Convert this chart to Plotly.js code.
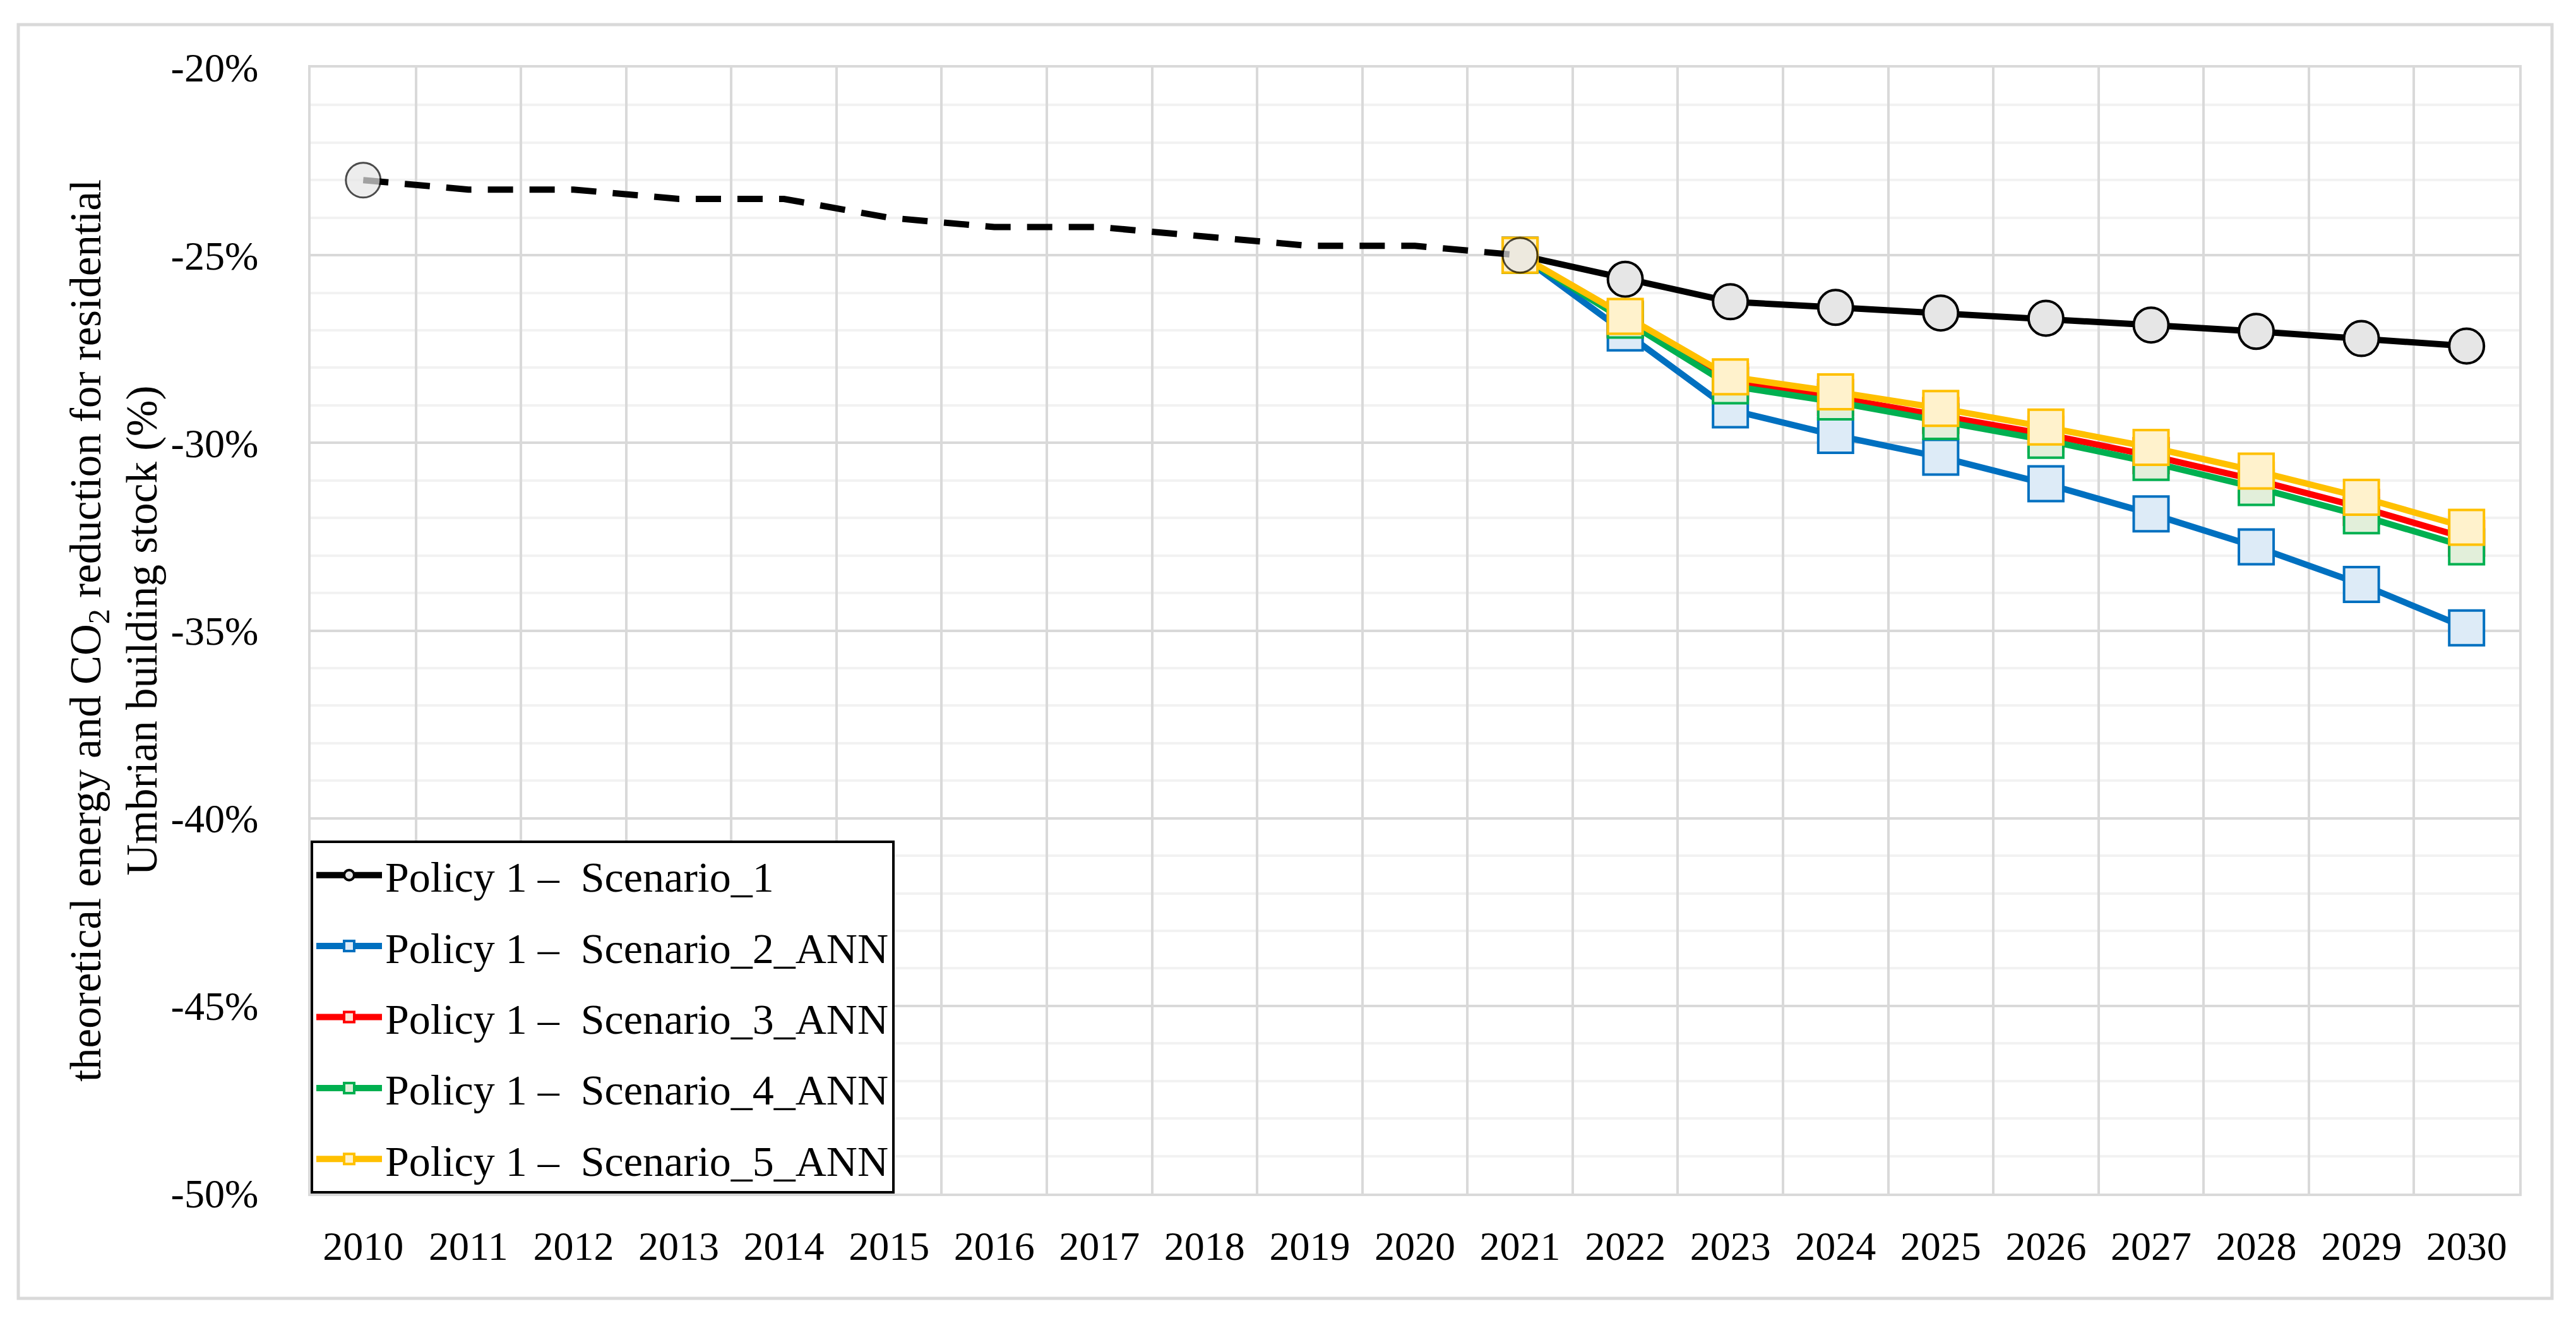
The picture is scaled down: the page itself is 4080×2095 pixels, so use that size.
<!DOCTYPE html>
<html>
<head>
<meta charset="utf-8">
<script src="https://cdn.plot.ly/plotly-3.0.1.min.js"></script>
<style>html,body{margin:0;padding:0;background:#fff;}</style>
</head>
<body>
<div id="chart" style="width:4080px;height:2095px;"></div>
<script>
// ---- data ----
const years = ['2010','2011','2012','2013','2014','2015','2016','2017','2018','2019','2020',
               '2021','2022','2023','2024','2025','2026','2027','2028','2029','2030'];
const historyYears = ['2010','2011','2012','2013','2014','2015','2016','2017','2018','2019','2020','2021'];
const historyValues = [-23.0, -23.25, -23.25, -23.5, -23.5, -24.0, -24.25, -24.25, -24.5, -24.75, -24.75, -25.0];
const scenarioYears = ['2021','2022','2023','2024','2025','2026','2027','2028','2029','2030'];
const scenario1 = [-25.0, -25.64, -26.24, -26.39, -26.54, -26.68, -26.86, -27.03, -27.22, -27.42];
const scenario2 = [-25.0, -27.07, -29.12, -29.80, -30.38, -31.09, -31.89, -32.77, -33.77, -34.93];
const scenario3 = [-25.0, -26.70, -28.37, -28.79, -29.27, -29.77, -30.34, -30.99, -31.72, -32.54];
const scenario4 = [-25.0, -26.73, -28.48, -28.91, -29.43, -29.93, -30.52, -31.19, -31.94, -32.77];
const scenario5 = [-25.0, -26.63, -28.24, -28.64, -29.08, -29.58, -30.12, -30.75, -31.45, -32.25];
const seriesNames = [
  'Policy 1 \u2013\u00a0 Scenario_1',
  'Policy 1 \u2013\u00a0 Scenario_2_ANN',
  'Policy 1 \u2013\u00a0 Scenario_3_ANN',
  'Policy 1 \u2013\u00a0 Scenario_4_ANN',
  'Policy 1 \u2013\u00a0 Scenario_5_ANN'
];
const yTicks = [-50, -45, -40, -35, -30, -25, -20];
const yTickText = ['-50%', '-45%', '-40%', '-35%', '-30%', '-25%', '-20%'];

// ---- styles ----
const FONT = "'Palatino Linotype','Book Antiqua',Palatino,'Liberation Serif',serif";
const LW = 10, MS = 55, MLW = 4;
const styles = [
  {line:'#000000', fill:'#E6E6E6', symbol:'circle'},
  {line:'#0070C0', fill:'#DDEBF7', symbol:'square'},
  {line:'#FF0000', fill:'#FCE4D6', symbol:'square'},
  {line:'#00B050', fill:'#E2EFDA', symbol:'square'},
  {line:'#FFC000', fill:'#FFF2CC', symbol:'square'}
];
const scenarioValues = [scenario1, scenario2, scenario3, scenario4, scenario5];

const traces = scenarioValues.map((vals, i) => ({
  type: 'scatter',
  mode: 'lines+markers',
  x: scenarioYears,
  y: vals,
  name: seriesNames[i],
  legendgroup: 'g' + i,
  line: {color: styles[i].line, width: LW},
  marker: {symbol: styles[i].symbol, size: MS, color: styles[i].fill,
           line: {color: styles[i].line, width: MLW}},
  hoverinfo: 'x+y+name'
}));

const histSizes = historyValues.map((v, i) => (i === 0 || i === historyValues.length - 1) ? MS : 0);
traces.push({
  type: 'scatter',
  mode: 'lines+markers',
  x: historyYears,
  y: historyValues,
  name: 'historical',
  showlegend: false,
  line: {color: '#000000', width: LW, dash: '40px,26px'},
  marker: {symbol: 'circle', size: histSizes, color: '#E6E6E6',
           line: {color: '#000000', width: 3}}
});

const W = 4080, H = 2095;
const L = 492, R = 90, T = 107, B = 205;
const pw = W - L - R, ph = H - T - B;
const px = v => (v - L) / pw;
const py = v => (H - B - v) / ph;

const layout = {
  width: W, height: H,
  margin: {l: L, r: R, t: T, b: B, pad: 0},
  paper_bgcolor: '#ffffff',
  plot_bgcolor: '#ffffff',
  font: {family: FONT, size: 64, color: '#000000'},
  showlegend: true,
  legend: {
    x: 0, y: 0, xanchor: 'left', yanchor: 'bottom',
    bgcolor: '#ffffff', bordercolor: '#000000', borderwidth: 4,
    font: {family: FONT, size: 68, color: '#000000'},
    itemwidth: 104, tracegroupgap: 21, traceorder: 'grouped',
    itemclick: false, itemdoubleclick: false
  },
  xaxis: {
    type: 'category',
    categoryorder: 'array', categoryarray: years,
    range: [-0.5, years.length - 0.5],
    tickson: 'boundaries',
    ticks: '',
    showgrid: true, gridcolor: '#d9d9d9', gridwidth: 4,
    showline: true, linecolor: '#d9d9d9', linewidth: 4, mirror: true,
    tickfont: {family: FONT, size: 64, color: '#000000'},
    ticklabelstandoff: 24,
    zeroline: false, fixedrange: true
  },
  yaxis: {
    range: [-50, -20],
    tickmode: 'array', tickvals: yTicks, ticktext: yTickText,
    ticks: '',
    showgrid: true, gridcolor: '#d9d9d9', gridwidth: 4,
    minor: {dtick: 1, tick0: -50, showgrid: true, gridcolor: '#f2f2f2', gridwidth: 4, ticks: ''},
    showline: true, linecolor: '#d9d9d9', linewidth: 4, mirror: true,
    tickfont: {family: FONT, size: 64, color: '#000000'},
    ticklabelstandoff: 66,
    zeroline: false, fixedrange: true,
    automargin: false,
    title: {
      text: 'theoretical energy and CO<sub>2</sub> reduction for residential<br>Umbrian building stock (%)',
      font: {family: FONT, size: 69, color: '#000000'},
      standoff: 0
    }
  },
  shapes: [{
    type: 'rect', xref: 'paper', yref: 'paper', layer: 'below',
    x0: px(29), x1: px(4042), y0: py(2056), y1: py(39),
    line: {color: '#d9d9d9', width: 5}, fillcolor: 'rgba(0,0,0,0)'
  }]
};

Plotly.newPlot('chart', traces, layout, {displayModeBar: false, staticPlot: true});
</script>
</body>
</html>
